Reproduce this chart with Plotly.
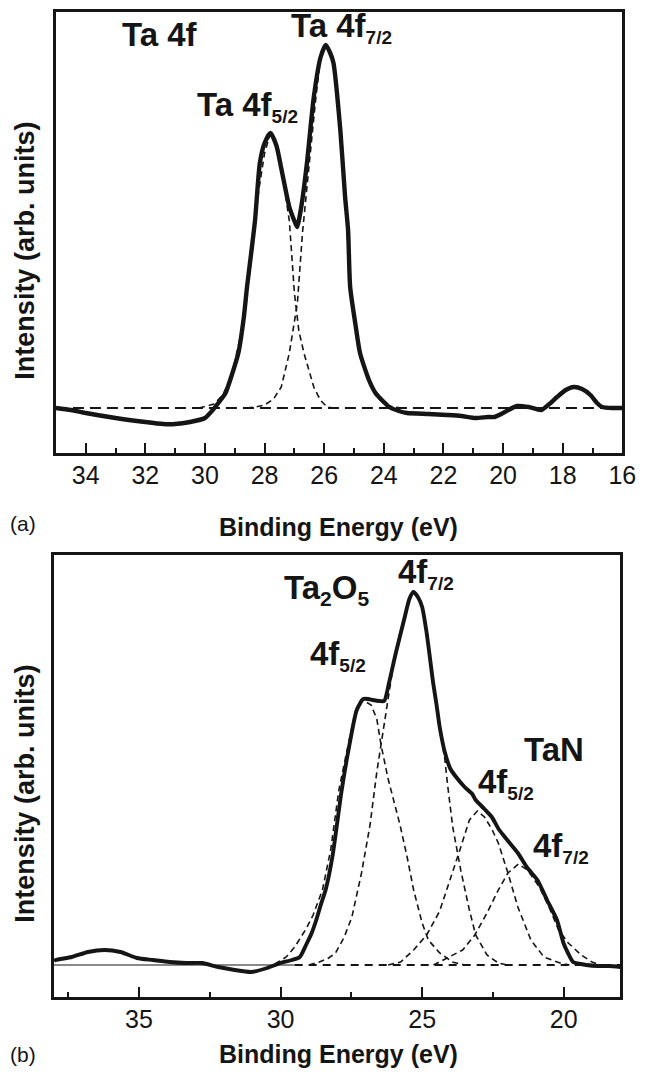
import plotly.graph_objects as go

# page is 651x1078; the html body adds an 8px margin, so the figure is 16px smaller
PAGE_W, PAGE_H = 651, 1078
OFF = 8
W, H = PAGE_W - OFF, PAGE_H - 2 * OFF

# ---------------- Panel (a): Ta 4f, metallic ----------------
a_energy = [35.0, 34.5, 34.0, 33.0, 32.0, 31.4, 31.0, 30.5, 30.0, 29.74, 29.5, 29.31, 29.1,
            28.88, 28.7, 28.59, 28.45, 28.32, 28.16, 28.0, 27.8, 27.6, 27.43, 27.17, 27.0,
            26.91, 26.75, 26.58, 26.35, 26.12, 25.95, 25.8, 25.69, 25.46, 25.3, 25.2, 25.13,
            24.95, 24.8, 24.5, 24.28, 24.0, 23.82, 23.5, 23.22, 22.5, 21.88, 21.4, 20.92,
            20.5, 20.3, 20.0, 19.54, 19.14, 18.72, 18.45, 18.19, 17.9, 17.63, 17.35, 17.07,
            16.85, 16.68, 16.3, 16.0]
a_intensity = [45, 43, 40, 35, 31, 29, 29, 31, 35, 43, 52, 60, 78,
               100, 135, 166, 200, 233, 290, 310, 320, 307, 283, 246, 232,
               226, 250, 290, 356, 396, 408, 400, 390, 323, 256, 223, 166,
               128, 100, 73, 60, 51, 46, 42, 40, 39, 38, 37, 35,
               36, 36, 40, 47, 46, 43, 49, 56, 63, 66, 64, 58,
               50, 46, 45, 45]

a_base_energy = [35.0, 16.0]
a_base_intensity = [45, 45]

a_f52_energy = [30.2, 29.7, 29.4, 29.1, 28.8, 28.5, 28.2, 28.0, 27.8, 27.6, 27.4, 27.17,
                27.0, 26.85, 26.68, 26.5, 26.35, 26.2, 26.07, 25.9, 25.7]
a_f52_intensity = [45, 49, 58, 78, 118, 180, 262, 300, 320, 305, 278, 232,
                   160, 122, 100, 80, 66, 57, 51, 46, 45]

a_f72_energy = [28.6, 28.3, 28.0, 27.7, 27.44, 27.17, 26.9, 26.73, 26.5, 26.3, 26.12, 25.95,
                25.8, 25.69, 25.46, 25.3, 25.13, 24.95, 24.8, 24.5, 24.28, 24.0, 23.7, 23.4]
a_f72_intensity = [45, 46, 48, 54, 66, 100, 150, 220, 290, 350, 396, 408,
                   400, 388, 323, 256, 170, 130, 102, 72, 58, 49, 46, 45]

# ---------------- Panel (b): Ta2O5 + TaN ----------------
b_energy = [38.0, 37.94, 37.37, 36.8, 36.22, 35.65, 35.07, 34.5, 33.92, 33.34, 32.77, 32.2,
            31.62, 31.04, 30.47, 30.0, 29.6, 29.32, 29.1, 28.9, 28.75, 28.58, 28.4, 28.17,
            28.0, 27.85, 27.6, 27.31, 27.08, 26.9, 26.74, 26.5, 26.34, 26.17, 25.93, 25.64,
            25.45, 25.31, 25.15, 25.0, 24.84, 24.61, 24.49, 24.38, 24.2, 24.0, 23.8, 23.5,
            23.23, 23.11, 22.8, 22.54, 22.3, 22.08, 21.85, 21.62, 21.28, 20.93, 20.59, 20.24,
            20.01, 19.85, 19.67, 19.4, 19.2, 18.8, 18.4, 18.0]
b_intensity = [36, 37, 40, 45, 47, 45, 39, 37, 35, 34, 34, 30,
               27, 25, 29, 34, 37, 40, 52, 64, 76, 92, 108, 140,
               174, 205, 247, 287, 298, 298, 297, 296, 296, 314, 344, 377,
               398, 405, 400, 390, 364, 314, 292, 270, 245, 228, 220, 210,
               203, 197, 188, 180, 168, 160, 152, 144, 129, 117, 97, 77,
               54, 44, 35, 33, 32, 31, 31, 30]

b_base_solid_energy = [38.0, 29.5]
b_base_dash_energy = [29.5, 18.0]
b_base_intensity = [32, 32]

b_ox52_energy = [30.2, 29.8, 29.5, 29.1, 28.85, 28.52, 28.23, 27.94, 27.7, 27.4, 27.1, 26.8,
                 26.6, 26.45, 26.2, 26.0, 25.78, 25.53, 25.3, 25.0, 24.78, 24.38, 23.93, 23.5]
b_ox52_intensity = [33, 40, 50, 68, 82, 107, 147, 207, 240, 280, 297, 292,
                    278, 252, 218, 195, 172, 140, 107, 74, 57, 44, 35, 32]

b_ox72_energy = [29.0, 28.63, 28.3, 28.06, 27.75, 27.48, 27.14, 26.84, 26.6, 26.45, 26.24, 26.0,
                 25.8, 25.64, 25.45, 25.31, 25.15, 25.0, 24.84, 24.61, 24.38, 24.2, 24.1, 23.92,
                 23.63, 23.34, 23.11, 22.71, 22.31, 22.0]
b_ox72_intensity = [32, 35, 39, 44, 60, 80, 124, 172, 225, 252, 290, 335,
                    362, 377, 398, 405, 400, 390, 364, 314, 270, 238, 212, 170,
                    126, 88, 62, 42, 34, 32]

b_n52_energy = [26.2, 25.76, 25.3, 24.84, 24.38, 24.0, 23.68, 23.33, 23.05, 22.8, 22.54, 22.31,
                21.97, 21.62, 21.16, 20.7, 20.13, 19.8]
b_n52_intensity = [32, 35, 47, 62, 86, 118, 146, 177, 186, 180, 168, 154,
                   124, 90, 57, 40, 34, 32]

b_n72_energy = [24.6, 24.03, 23.57, 23.14, 22.71, 22.31, 21.97, 21.6, 21.28, 20.86, 20.52, 20.18,
                19.84, 19.38, 19.0, 18.7]
b_n72_intensity = [32, 40, 47, 62, 84, 107, 124, 133, 127, 110, 90, 67,
                   54, 42, 35, 32]

INK = "#151515"
FONT = "Liberation Sans, Arial, sans-serif"

fig = go.Figure()


def dashed(x, y, xa, ya, width=1.6, dash="6px,4px"):
    fig.add_trace(go.Scatter(x=x, y=y, xaxis=xa, yaxis=ya, mode="lines",
                             line=dict(color=INK, width=width, dash=dash),
                             hoverinfo="skip", showlegend=False))


def solid(x, y, xa, ya, width=4):
    fig.add_trace(go.Scatter(x=x, y=y, xaxis=xa, yaxis=ya, mode="lines",
                             line=dict(color=INK, width=width, shape="spline", smoothing=0.6),
                             hoverinfo="skip", showlegend=False))


# panel a
dashed(a_base_energy, a_base_intensity, "x", "y", width=2.2, dash="11px,6px")
dashed(a_f52_energy, a_f52_intensity, "x", "y")
dashed(a_f72_energy, a_f72_intensity, "x", "y")
solid(a_energy, a_intensity, "x", "y", width=4.4)

# panel b
fig.add_trace(go.Scatter(x=b_base_solid_energy, y=b_base_intensity, xaxis="x2", yaxis="y2",
                         mode="lines", line=dict(color=INK, width=1.2),
                         hoverinfo="skip", showlegend=False))
dashed(b_base_dash_energy, b_base_intensity, "x2", "y2", width=2.0, dash="8px,6px")
dashed(b_ox52_energy, b_ox52_intensity, "x2", "y2")
dashed(b_ox72_energy, b_ox72_intensity, "x2", "y2")
dashed(b_n52_energy, b_n52_intensity, "x2", "y2")
dashed(b_n72_energy, b_n72_intensity, "x2", "y2")
solid(b_energy, b_intensity, "x2", "y2", width=3.9)


def px_x(p):
    return (p - OFF) / W


def px_y(p):
    return 1 - (p - OFF) / H


axis_common = dict(showline=True, linewidth=2.5, linecolor=INK, mirror=True,
                   showgrid=False, zeroline=False)

fig.update_layout(
    width=W, height=H,
    margin=dict(l=0, r=0, t=0, b=0),
    paper_bgcolor="white", plot_bgcolor="white",
    font=dict(family=FONT, color=INK),
    xaxis=dict(domain=[px_x(57), px_x(636)], anchor="y", range=[35, 16],
               ticks="inside", ticklen=10, tickwidth=2, tickcolor=INK,
               tick0=0, dtick=2, tickfont=dict(size=25, family=FONT, color=INK),
               ticklabelstandoff=-2,
               minor=dict(ticks="inside", ticklen=5, tickwidth=2, tickcolor=INK, dtick=1),
               **axis_common),
    yaxis=dict(domain=[px_y(453), px_y(12)], anchor="x", range=[0, 441],
               showticklabels=False, ticks="", **axis_common),
    xaxis2=dict(domain=[px_x(55), px_x(634)], anchor="y2", range=[38, 18],
                ticks="inside", ticklen=10, tickwidth=2, tickcolor=INK,
                tick0=0, dtick=5, tickfont=dict(size=25, family=FONT, color=INK),
                ticklabelstandoff=-2,
                minor=dict(ticks="inside", ticklen=5, tickwidth=2, tickcolor=INK, dtick=2.5),
                **axis_common),
    yaxis2=dict(domain=[px_y(997), px_y(555)], anchor="x2", range=[0, 442],
                showticklabels=False, ticks="", **axis_common),
)

LAB = 33
SUB = 19


def label(text, left, cy, size=LAB, bold=True):
    t = f"<b>{text}</b>" if bold else text
    fig.add_annotation(x=px_x(left), y=px_y(cy), xref="paper", yref="paper",
                       text=t, showarrow=False, xanchor="left", yanchor="middle",
                       font=dict(size=size, family=FONT, color=INK), borderpad=0)


def sublabel(main, sub, left, cy):
    t = f"<b>{main}<sub><span style='font-size:{SUB}px'>{sub}</span></sub></b>"
    fig.add_annotation(x=px_x(left), y=px_y(cy), xref="paper", yref="paper",
                       text=t, showarrow=False, xanchor="left", yanchor="middle",
                       font=dict(size=LAB, family=FONT, color=INK), borderpad=0)


# panel a labels
label("Ta 4f", 124, 34)
sublabel("Ta 4f", "7/2", 296, 28)
sublabel("Ta 4f", "5/2", 200, 107)

# panel b labels
fig.add_annotation(x=px_x(289), y=px_y(590), xref="paper", yref="paper",
                   text=f"<b>Ta<sub><span style='font-size:{SUB+2}px'>2</span></sub>O<sub><span style='font-size:{SUB+2}px'>5</span></sub></b>",
                   showarrow=False, xanchor="left", yanchor="middle",
                   font=dict(size=LAB, family=FONT, color=INK), borderpad=0)
sublabel("4f", "7/2", 406, 573)
sublabel("4f", "5/2", 316, 655)
label("TaN", 534, 749)
sublabel("4f", "5/2", 487, 783)
sublabel("4f", "7/2", 544, 847)

# axis titles
for cy in (527, 1054):
    fig.add_annotation(x=px_x(346), y=px_y(cy), xref="paper", yref="paper",
                       text="<b>Binding Energy (eV)</b>", showarrow=False,
                       xanchor="center", yanchor="middle",
                       font=dict(size=25, family=FONT, color=INK), borderpad=0)
for cy in (251, 794):
    fig.add_annotation(x=px_x(25), y=px_y(cy), xref="paper", yref="paper",
                       text="<b>Intensity (arb. units)</b>", showarrow=False, textangle=-90,
                       xanchor="center", yanchor="middle",
                       font=dict(size=27, family=FONT, color=INK), borderpad=0)

label("(a)", 9, 523, size=21, bold=False)
label("(b)", 9, 1054, size=21, bold=False)

fig.write_html("out.html")
